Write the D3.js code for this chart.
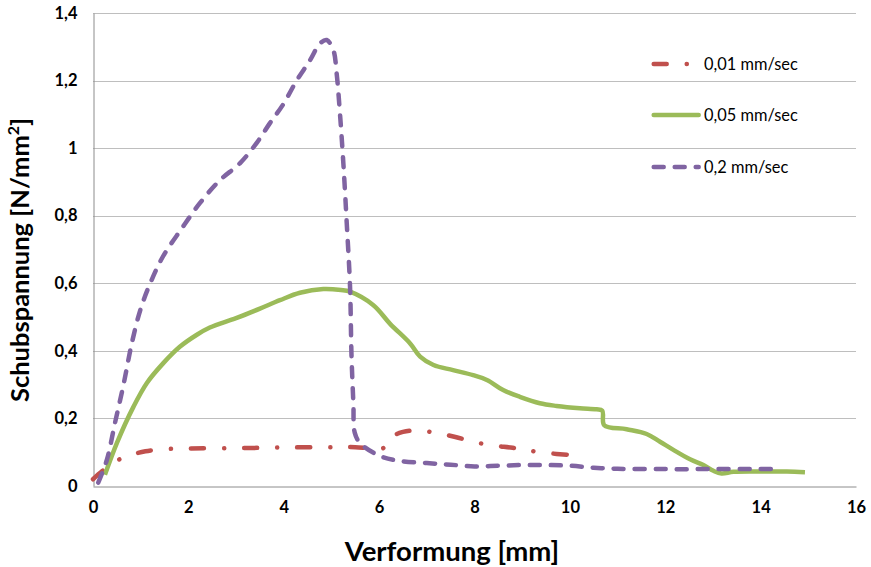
<!DOCTYPE html>
<html><head><meta charset="utf-8">
<script src="https://cdnjs.cloudflare.com/ajax/libs/d3/7.8.5/d3.min.js"></script>
<style>body{margin:0;background:#fff;} svg{display:block;font-family:Lato,"Open Sans",sans-serif;}</style>
</head><body>
<svg id="chart" width="871" height="567"></svg>
<script>
const seriesNames = ["0,01 mm/sec", "0,05 mm/sec", "0,2 mm/sec"];
const xTicks = [0,2,4,6,8,10,12,14,16];
const yTicks = [0,0.2,0.4,0.6,0.8,1,1.2,1.4];
const xTitle = "Verformung [mm]";
const yTitle = "Schubspannung [N/mm";

const red = [[0,0.02],[0.2,0.045],[0.5,0.075],[0.8,0.092],[1.1,0.103],[1.5,0.109],[2,0.111],[3,0.112],[4,0.114],[5,0.115],[5.5,0.115],[6.1,0.113],[6.3,0.148],[6.5,0.16],[6.8,0.165],[7.2,0.157],[7.6,0.145],[8,0.13],[8.4,0.12],[8.8,0.113],[9.1,0.106],[9.5,0.098],[10,0.092],[10.3,0.089]];
const green = [[0.25,0.033],[0.5,0.127],[0.85,0.235],[1.13,0.305],[1.47,0.363],[1.82,0.412],[2.17,0.447],[2.45,0.469],[3,0.497],[3.5,0.525],[3.92,0.55],[4.34,0.572],[4.83,0.583],[5.2,0.58],[5.39,0.575],[5.88,0.535],[6.23,0.48],[6.65,0.422],[6.86,0.383],[7.14,0.358],[7.55,0.343],[7.97,0.328],[8.26,0.314],[8.6,0.284],[8.95,0.264],[9.37,0.245],[9.72,0.237],[10.21,0.23],[10.56,0.227],[10.68,0.223],[10.72,0.18],[11.19,0.168],[11.61,0.154],[11.89,0.131],[12.17,0.107],[12.52,0.079],[12.8,0.062],[13.01,0.045],[13.18,0.037],[13.43,0.042],[14,0.043],[14.55,0.043],[14.93,0.041]];
const purple = [[0.11,0.01],[0.29,0.077],[0.46,0.186],[0.64,0.30],[0.81,0.42],[0.99,0.52],[1.2,0.60],[1.47,0.68],[1.85,0.76],[2.24,0.837],[2.66,0.905],[3.08,0.955],[3.43,1.015],[3.71,1.074],[3.99,1.13],[4.27,1.20],[4.55,1.26],[4.76,1.31],[4.9,1.32],[5.04,1.29],[5.11,1.22],[5.18,1.10],[5.25,0.955],[5.32,0.78],[5.39,0.59],[5.42,0.39],[5.46,0.245],[5.49,0.157],[5.6,0.127],[6.0,0.09],[6.4,0.075],[7,0.068],[7.5,0.063],[8,0.058],[8.5,0.06],[9,0.062],[9.5,0.062],[10,0.06],[10.5,0.054],[11,0.051],[12,0.05],[13,0.05],[14,0.05],[14.4,0.05]];

const seriesData = [red, green, purple];
const colors = ["#C0504D", "#9BBB59", "#8064A2"];
const dashes = ["13,20,0.1,20", null, "10,11"];

const svg = d3.select("#chart");
const x = d3.scaleLinear().domain([0,16]).range([93,856]);
const y = d3.scaleLinear().domain([0,1.4]).range([486,13]);

svg.append("g").selectAll("line").data(yTicks.filter(d=>d>0)).join("line")
  .attr("x1",x(0)).attr("x2",x(16)).attr("y1",d=>Math.round(y(d))+0.5).attr("y2",d=>Math.round(y(d))+0.5)
  .attr("stroke","#BEBEBE").attr("stroke-width",1);

const xAxis = d3.axisBottom(x).tickValues(xTicks).tickSize(0).tickPadding(15).tickFormat(d=>String(d));
const yAxis = d3.axisLeft(y).tickValues(yTicks).tickSize(0).tickPadding(16).tickFormat(d=>String(d).replace(".",","));
const gx = svg.append("g").attr("transform",`translate(0,${Math.round(y(0))+0.5})`).call(xAxis);
const gy = svg.append("g").attr("transform",`translate(${Math.round(x(0))+0.5},0)`).call(yAxis);
[gx,gy].forEach(g=>{
  g.select(".domain").attr("stroke","#8C8C8C").attr("stroke-width",1);
  g.selectAll("text").attr("font-size",16.5).attr("font-weight","bold").attr("fill","#000").attr("font-family","Lato");
});

const line = d3.line().x(d=>x(d[0])).y(d=>y(d[1])).curve(d3.curveCatmullRom.alpha(0.5));
seriesData.forEach((s,i)=>{
  svg.append("path").datum(s).attr("d",line).attr("fill","none")
    .attr("stroke",colors[i]).attr("stroke-width",4.5)
    .attr("stroke-linecap", dashes[i] ? "round" : "butt").attr("stroke-linejoin","round")
    .attr("stroke-dasharray",dashes[i]);
});

const legY = [64,115,167];
seriesNames.forEach((n,i)=>{
  const g = svg.append("g");
  g.append("line").attr("x1",653.7).attr("x2",698.7).attr("y1",legY[i]).attr("y2",legY[i])
    .attr("stroke",colors[i]).attr("stroke-width",4.5)
    .attr("stroke-linecap","round").attr("stroke-dasharray",dashes[i]);
  g.append("text").attr("x",704).attr("y",legY[i]).attr("dy","0.35em")
    .attr("font-size",16.4).attr("fill","#000").text(n);
});

svg.append("text").attr("x",452).attr("y",561).attr("text-anchor","middle")
  .attr("font-size",27.5).attr("font-weight","bold").text(xTitle);
const yt = svg.append("text").attr("transform","translate(29,260) rotate(-90)").attr("text-anchor","middle")
  .attr("font-size",25.5).attr("font-weight","bold");
yt.append("tspan").text(yTitle);
yt.append("tspan").attr("font-size",16).attr("dy",-10).text("2");
yt.append("tspan").attr("dy",10).text("]");
</script>
</body></html>
